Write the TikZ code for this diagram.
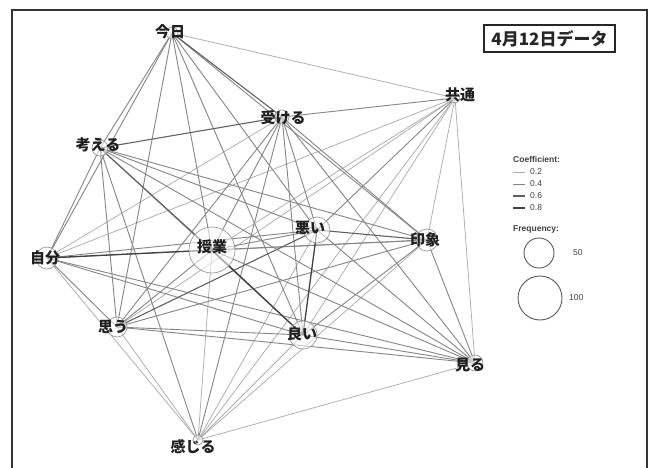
\documentclass[tikz,border=0pt]{standalone}
\usepackage{fontspec}
\setmainfont{Liberation Sans}
\newfontfamily\jp{Noto Sans CJK JP}
\begin{document}
\begin{tikzpicture}[x=1pt,y=-1pt,
  e1/.style={draw=black!32, line width=0.75pt},
  e2/.style={draw=black!48, line width=0.9pt},
  e3/.style={draw=black!62, line width=1.1pt},
  e4/.style={draw=black!75, line width=1.3pt},
  circ/.style={circle, draw=black!40, line width=0.7pt, fill=white, fill opacity=0.55, inner sep=0pt},
  lab/.style={font=\jp\bfseries\fontsize{15}{15}\selectfont, text=black!88, inner sep=0pt},
  leg/.style={font=\fontsize{8.5}{9}\selectfont, text=black!75, anchor=west, inner sep=0pt},
  legc/.style={circle, draw=black!65, line width=0.9pt, inner sep=0pt}]
\useasboundingbox (0,0) rectangle (653,468);
\fill[white] (0,0) rectangle (653,468);
% node centres
\coordinate (A) at (172,33);
\coordinate (B) at (455,98);
\coordinate (C) at (282,117);
\coordinate (D) at (100,148);
\coordinate (E) at (47,258);
\coordinate (F) at (212,250);
\coordinate (G) at (317,230);
\coordinate (H) at (427,240);
\coordinate (I) at (303,335);
\coordinate (J) at (117,327);
\coordinate (K) at (475,363);
\coordinate (L) at (198,440);
% edges
\foreach \a/\b in {A/B,B/E,B/F,B/J,B/I,B/L,B/H,B/K,C/E,E/L,F/L,G/L,H/L,I/L,J/L,K/L}
  \draw[e1] (\a) -- (\b);
\foreach \a/\b in {A/D,A/E,A/J,A/F,A/I,A/G,A/H,B/C,B/G,C/F,C/G,C/H,C/I,C/J,C/K,C/L,
  D/E,D/G,D/H,D/I,D/J,D/K,D/L,E/G,E/H,E/I,E/J,E/K,F/G,F/H,F/J,F/K,G/K,H/I,H/J,H/K,I/J,I/K,J/K}
  \draw[e2] (\a) -- (\b);
\foreach \a/\b in {A/C,C/D,D/F,G/H,G/J}
  \draw[e3] (\a) -- (\b);
\foreach \a/\b in {E/F,F/I,G/I}
  \draw[e4] (\a) -- (\b);
% node circles
\node[circ, minimum size=12pt] (cA) at (A) {};
\node[circ, minimum size=10pt] (cB) at (B) {};
\node[circ, minimum size=14pt] (cC) at (C) {};
\node[circ, minimum size=16pt] (cD) at (D) {};
\node[circ, minimum size=22pt] (cE) at (E) {};
\node[circ, minimum size=46pt] (cF) at (F) {};
\node[circ, minimum size=26pt] (cG) at (G) {};
\node[circ, minimum size=22pt] (cH) at (H) {};
\node[circ, minimum size=28pt] (cI) at (I) {};
\node[circ, minimum size=20pt] (cJ) at (J) {};
\node[circ, minimum size=16pt] (cK) at (K) {};
\node[circ, minimum size=10pt] (cL) at (L) {};
% labels
\node[lab] (tA) at (170,32) {今日};
\node[lab] (tB) at (460,95) {共通};
\node[lab] (tC) at (283,118) {受ける};
\node[lab] (tD) at (98,145) {考える};
\node[lab] (tE) at (45,258) {自分};
\node[lab] (tF) at (212,247) {授業};
\node[lab] (tG) at (310,228) {悪い};
\node[lab] (tH) at (425,240) {印象};
\node[lab] (tI) at (302,334) {良い};
\node[lab] (tJ) at (113,327) {思う};
\node[lab] (tK) at (470,365) {見る};
\node[lab] (tL) at (193,447) {感じる};
% frame
\draw[line width=2pt, black!80] (12,10) rectangle (647,478);
% title
\node[draw=black!85, line width=2.5pt, minimum width=131pt, minimum height=27pt,
  font=\jp\bfseries\fontsize{17}{17}\selectfont, text=black!85] (title) at (549.5,38.5) {4月12日データ};
% legend
\node[leg, font=\bfseries\fontsize{8.5}{9}\selectfont] (lc) at (513,159) {Coefficient:};
\coordinate (l1a) at (513,172); \coordinate (l1b) at (525,172);
\coordinate (l2a) at (513,184); \coordinate (l2b) at (525,184);
\coordinate (l3a) at (513,196); \coordinate (l3b) at (525,196);
\coordinate (l4a) at (513,208); \coordinate (l4b) at (525,208);
\draw[e1] (l1a) -- (l1b);
\draw[e2] (l2a) -- (l2b);
\draw[e3] (l3a) -- (l3b);
\draw[e4] (l4a) -- (l4b);
\node[leg] (v1) at (530,172) {0.2};
\node[leg] (v2) at (530,184) {0.4};
\node[leg] (v3) at (530,196) {0.6};
\node[leg] (v4) at (530,208) {0.8};
\node[leg, font=\bfseries\fontsize{8.5}{9}\selectfont] (lf) at (513,229) {Frequency:};
\node[legc, minimum size=30pt] (f50) at (539,253) {};
\node[legc, minimum size=44pt] (f100) at (540,298) {};
\node[leg] (n50) at (573,253) {50};
\node[leg] (n100) at (569,298) {100};
\end{tikzpicture}
\end{document}
